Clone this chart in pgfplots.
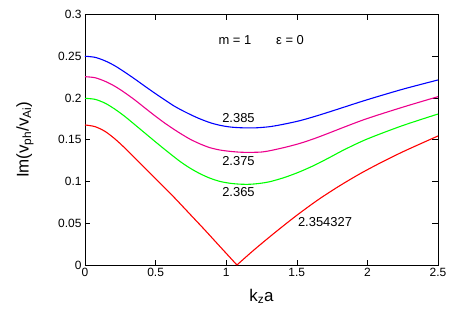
\documentclass[border=0pt]{standalone}
\usepackage{fontspec}
\setmainfont{Liberation Sans}
\usepackage{pgfplots}
\pgfplotsset{compat=1.18}
\usetikzlibrary{calc}

% curves, one table per dispersion branch
\pgfplotstableread{
x y
0     0.2500
0.071 0.2487
0.142 0.2445
0.212 0.2385
0.283 0.2308
0.354 0.2226
0.425 0.2140
0.496 0.2056
0.567 0.1975
0.637 0.1898
0.715 0.1828
0.800 0.1760
0.885 0.1705
0.956 0.1673
1.027 0.1653
1.100 0.1644
1.200 0.1642
1.310 0.1657
1.416 0.1689
1.523 0.1729
1.629 0.1780
1.735 0.1836
1.841 0.1894
2.000 0.1980
2.250 0.2105
2.500 0.2216
}\blueline
\pgfplotstableread{
x y
0     0.2255
0.071 0.2243
0.142 0.2200
0.212 0.2140
0.283 0.2062
0.354 0.1975
0.425 0.1880
0.496 0.1786
0.567 0.1697
0.637 0.1617
0.673 0.1578
0.744 0.1507
0.815 0.1450
0.885 0.1405
0.956 0.1377
1.027 0.1361
1.100 0.1351
1.169 0.1349
1.250 0.1353
1.310 0.1369
1.416 0.1409
1.523 0.1457
1.629 0.1517
1.735 0.1585
1.841 0.1655
2.000 0.1755
2.250 0.1890
2.500 0.2016
}\magline
\pgfplotstableread{
x y
0     0.1996
0.071 0.1984
0.142 0.1938
0.212 0.1866
0.283 0.1778
0.354 0.1679
0.425 0.1579
0.496 0.1479
0.567 0.1381
0.637 0.1287
0.673 0.1240
0.744 0.1160
0.815 0.1093
0.885 0.1040
0.956 0.1001
1.027 0.0979
1.098 0.0968
1.169 0.0967
1.240 0.0978
1.310 0.0998
1.416 0.1050
1.523 0.1118
1.629 0.1198
1.735 0.1290
1.841 0.1385
2.000 0.1510
2.250 0.1670
2.500 0.1808
}\greenline
\pgfplotstableread{
x y
0     0.1677
0.071 0.1657
0.142 0.1600
0.212 0.1510
0.283 0.1400
0.354 0.1280
0.425 0.1160
0.496 0.1040
0.567 0.0920
0.637 0.0800
0.750 0.0597
0.850 0.0417
0.950 0.0232
1.076 0
}\redleft
\pgfplotstableread{
x y
1.076 0
1.200 0.0185
1.350 0.0395
1.500 0.0595
1.650 0.0780
1.800 0.0945
1.950 0.1095
2.100 0.1230
2.250 0.1355
2.400 0.1470
2.500 0.1545
}\redright

\begin{document}
\begin{tikzpicture}
\begin{axis}[
  scale only axis, width=353bp, height=250.5bp,
  xmin=0, xmax=2.5, ymin=0, ymax=0.3,
  xtick={0,0.5,...,2.5}, ytick={0,0.05,...,0.3},
  yticklabel style={/pgf/number format/fixed, /pgf/number format/precision=2},
  xticklabel style={/pgf/number format/fixed},
  /pgf/number format/assume math mode=true,
  tick label style={font=\fontsize{12}{14}\selectfont},
  major tick length=5.5bp, tick style={black, line width=0.6pt},
  axis line style={line width=0.8pt},
  xlabel={k\textsubscript{z}a}, ylabel={Im(v\textsubscript{ph}/v\textsubscript{Ai})},
  label style={font=\fontsize{17}{19}\selectfont},
  xlabel style={at={(axis description cs:0.5,-0.125)}, anchor=center},
  ylabel style={at={(axis description cs:-0.17,0.5)}, anchor=center},
  every axis plot/.append style={line width=1.1pt},
  clip=false,
]
\addplot[blue, smooth] table {\blueline};
\addplot[magenta, smooth] table {\magline};
\addplot[green, smooth] table {\greenline};
\addplot[red, smooth] table {\redleft};
\addplot[red, smooth] table {\redright};
\begin{scope}[font=\fontsize{13}{15}\selectfont]
\node at (axis cs:1.062,0.2695) {m = 1};
\node at (axis cs:1.452,0.2695) {ε = 0};
\node at (axis cs:1.087,0.176) {2.385};
\node at (axis cs:1.087,0.1249) {2.375};
\node at (axis cs:1.087,0.087) {2.365};
\node at (axis cs:1.70,0.0519) {2.354327};
\end{scope}
\end{axis}
\path (current axis.south west) ++(-85bp,-54bp) rectangle ($(current axis.north east)+(19bp,14.5bp)$);
\end{tikzpicture}
\end{document}
